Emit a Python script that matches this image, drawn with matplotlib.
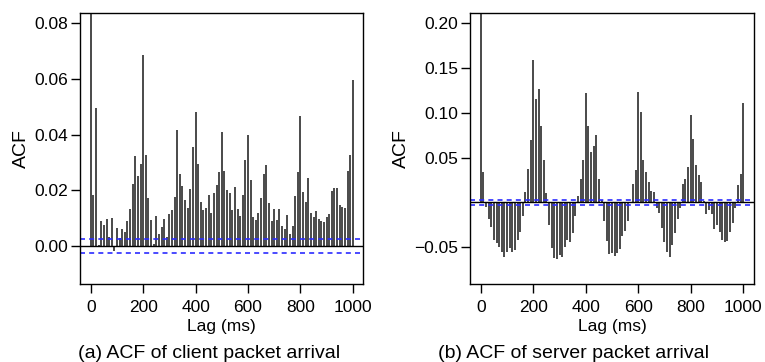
import matplotlib
matplotlib.use("Agg")
import matplotlib.pyplot as plt
import numpy as np

plt.rcParams['font.family'] = ['Liberation Sans', 'DejaVu Sans']

lags = list(range(0, 1001, 10))

client_acf = [
    1.0, 0.0184, 0.0496, 0.0004, 0.0091, 0.0076, 0.0096, 0.0034, 0.0100, -0.0016,
    0.0064, 0.0030, 0.0061, 0.0049, 0.0090, 0.0132, 0.0223, 0.0324, 0.0253, 0.0295,
    0.0687, 0.0327, 0.0172, 0.0094, 0.0006, 0.0108, 0.0043, 0.0067, 0.0096, 0.0031,
    0.0115, 0.0130, 0.0175, 0.0418, 0.0259, 0.0216, 0.0166, 0.0136, 0.0204, 0.0357,
    0.0482, 0.0295, 0.0157, 0.0130, 0.0136, 0.0183, 0.0120, 0.0190, 0.0220, 0.0267,
    0.0411, 0.0269, 0.0201, 0.0189, 0.0130, 0.0212, 0.0132, 0.0108, 0.0183, 0.0309,
    0.0400, 0.0239, 0.0106, 0.0094, 0.0118, 0.0173, 0.0258, 0.0292, 0.0156, 0.0090,
    0.0135, 0.0094, 0.0132, 0.0072, 0.0061, 0.0111, 0.0044, 0.0074, 0.0180, 0.0267,
    0.0468, 0.0196, 0.0157, 0.0244, 0.0118, 0.0105, 0.0127, 0.0097, 0.0090, 0.0085,
    0.0103, 0.0115, 0.0198, 0.0210, 0.0210, 0.0147, 0.0142, 0.0137, 0.0268, 0.0327,
    0.0595,
]

server_acf = [
    1.0, 0.0335, -0.0053, -0.0187, -0.0270, -0.0419, -0.0456, -0.0500, -0.0557, -0.0613,
    -0.0560, -0.0512, -0.0560, -0.0530, -0.0426, -0.0333, -0.0150, 0.0119, 0.0373, 0.0694,
    0.1590, 0.1150, 0.1270, 0.0858, 0.0477, 0.0104, -0.0258, -0.0512, -0.0624, -0.0635,
    -0.0587, -0.0613, -0.0494, -0.0426, -0.0445, -0.0344, -0.0149, 0.0074, 0.0261, 0.0477,
    0.1224, 0.0850, 0.0567, 0.0627, 0.0754, 0.0264, 0.0022, -0.0206, -0.0430, -0.0579,
    -0.0568, -0.0594, -0.0568, -0.0519, -0.0381, -0.0318, -0.0206, -0.0010, 0.0208, 0.0361,
    0.1230, 0.1007, 0.0474, 0.0335, 0.0227, 0.0126, 0.0118, -0.0064, -0.0120, -0.0287,
    -0.0448, -0.0557, -0.0605, -0.0474, -0.0344, -0.0183, -0.0068, 0.0208, 0.0261, 0.0399,
    0.0981, 0.0708, 0.0414, 0.0309, 0.0231, 0.0010, -0.0128, -0.0086, -0.0128, -0.0303,
    -0.0250, -0.0336, -0.0418, -0.0445, -0.0430, -0.0336, -0.0231, -0.0064, 0.0190, 0.0321,
    0.1112,
]

conf_band = 0.0024

client_ylim = (-0.01, 0.08)
server_ylim = (-0.08, 0.20)
client_yticks = [0.00, 0.02, 0.04, 0.06, 0.08]
client_yticklabels = ["0.00", "0.02", "0.04", "0.06", "0.08"]
server_yticks = [-0.05, 0.05, 0.10, 0.15, 0.20]
server_yticklabels = ["\u22120.05", "0.05", "0.10", "0.15", "0.20"]
xticks = [0, 200, 400, 600, 800, 1000]

captions = ["(a) ACF of client packet arrival", "(b) ACF of server packet arrival"]

fig = plt.figure(figsize=(7.65, 3.62), dpi=100)
W, H = 765, 362

def make_ax(left_px, right_px, top_px, bottom_px):
    return fig.add_axes([left_px / W, 1 - bottom_px / H,
                         (right_px - left_px) / W, (bottom_px - top_px) / H])

ax1 = make_ax(80.3, 363.3, 13.3, 284)
ax2 = make_ax(470.3, 753.7, 13.3, 284)

def ext(lo, hi):
    d = (hi - lo) * 0.04
    return lo - d, hi + d

for ax, acf, ylim, yt, ytl in [
    (ax1, client_acf, client_ylim, client_yticks, client_yticklabels),
    (ax2, server_acf, server_ylim, server_yticks, server_yticklabels),
]:
    ax.vlines(lags, 0, acf, colors='#4a4a4a', linewidth=1.4)
    ax.axhline(0, color='black', linewidth=1.0)
    ax.axhline(conf_band, color='#2b2bff', linewidth=1.2, linestyle=(0, (3, 2.5)))
    ax.axhline(-conf_band, color='#2b2bff', linewidth=1.2, linestyle=(0, (3, 2.5)))
    ax.set_xlim(*ext(0, 1000))
    ax.set_ylim(*ext(*ylim))
    ax.set_xticks(xticks)
    ax.set_xticklabels([str(t) for t in xticks], fontsize=12.5)
    ax.set_yticks(yt)
    ax.set_yticklabels(ytl, fontsize=12.5)
    ax.tick_params(axis='x', direction='out', length=6.7, width=1, pad=5)
    ax.tick_params(axis='y', direction='out', length=6.7, width=1, pad=2)
    for s in ax.spines.values():
        s.set_linewidth(1.0)
    ax.set_xlabel("Lag (ms)", fontsize=12.5, labelpad=2.5)
    ax.set_ylabel("ACF", fontsize=14, labelpad=3)

fig.text(209 / W, 1 - 353 / H, captions[0], ha='center', va='center', fontsize=14)
fig.text(573.7 / W, 1 - 353 / H, captions[1], ha='center', va='center', fontsize=14)

fig.savefig("out.png", dpi=100)
